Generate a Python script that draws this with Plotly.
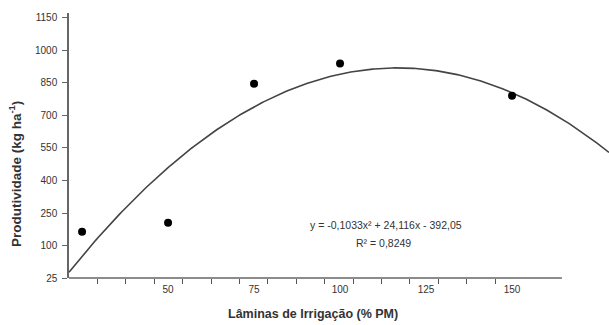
import numpy as np
import plotly.graph_objects as go

# Data (y in the chart's evenly spaced tick scale)
laminas = [25, 50, 75, 100, 150]
produtividade = [163, 205, 847, 940, 791]

y_tickvals = [-50, 100, 250, 400, 550, 700, 850, 1000, 1150]
y_ticktext = ["25", "100", "250", "400", "550", "700", "850", "1000", "1150"]
x_tickvals = [50, 75, 100, 125, 150]
x_ticktext = ["50", "75", "100", "125", "150"]

# printed regression coefficients (quadratic and linear terms)
coef_a = -0.1033
coef_b = 24.116
equation_text = "y = -0,1033x² + 24,116x - 392,05"
r2_text = "R² = 0,8249"

x_min, x_max = 21.2, 178.2
x_axis_end = 164.5
y_min, y_max = -50, 1173

# Trendline: printed curvature/slope, intercept fitted (least squares) to the points
xa = np.array(laminas, dtype=float)
ya = np.array(produtividade, dtype=float)
coef_c = ya.mean() - coef_a * (xa ** 2).mean() - coef_b * xa.mean()
xs = np.linspace(x_min, x_max, 300)
ys = np.polyval([coef_a, coef_b, coef_c], xs)

font_family = "Liberation Sans, Arial, sans-serif"
txt = "#333333"

fig = go.Figure()
fig.add_trace(go.Scatter(x=xs, y=ys, mode="lines",
                         line=dict(color="#444444", width=1.6),
                         hoverinfo="skip", showlegend=False))
fig.add_trace(go.Scatter(x=laminas, y=produtividade, mode="markers",
                         marker=dict(color="black", size=8),
                         showlegend=False))

minor_x = list(np.arange(x_min + 8.26, 146, 8.26))

fig.update_layout(
    width=609, height=325,
    margin=dict(l=69, r=0, t=13, b=47),
    paper_bgcolor="white", plot_bgcolor="white",
    font=dict(family=font_family, size=10, color=txt),
    xaxis=dict(range=[x_min, x_max], showgrid=False, zeroline=False,
               showline=False, tickmode="array", tickvals=x_tickvals,
               ticktext=x_ticktext, ticks="", ticklabelstandoff=4,
               tickfont=dict(size=10, color=txt),
               minor=dict(tickmode="array", tickvals=minor_x, ticks="outside",
                          ticklen=5, tickcolor="#555555", tickwidth=1, showgrid=False)),
    yaxis=dict(range=[y_min, y_max], showgrid=False, zeroline=False,
               showline=True, linecolor="#666666", linewidth=1.5,
               tickmode="array", tickvals=y_tickvals, ticktext=y_ticktext,
               ticks="outside", ticklen=5, tickcolor="#666666", tickwidth=1,
               ticklabelstandoff=3,
               tickfont=dict(size=10, color=txt)),
)

# x axis line (stops before the right end of the plot)
fig.add_shape(type="line", xref="x", yref="paper", x0=x_min, x1=x_axis_end,
              y0=0, y1=0, line=dict(color="#666666", width=1.5))

fig.add_annotation(text="<b>Lâminas de Irrigação (% PM)</b>", xref="paper", yref="paper",
                   x=(313 - 69) / 540, y=-(314 - 277.7) / 264.4, showarrow=False,
                   font=dict(size=12.5, color=txt, family=font_family),
                   xanchor="center", yanchor="middle")
fig.add_annotation(text="<b>Produtividade (kg ha<sup>-1</sup>)</b>", xref="paper", yref="paper",
                   x=-(69 - 15) / 540, y=(277.7 - 174) / 264.4, textangle=-90,
                   showarrow=False, xanchor="center", yanchor="middle",
                   font=dict(size=13.5, color=txt, family=font_family))
fig.add_annotation(text=equation_text, xref="paper", yref="paper",
                   x=(386 - 69) / 540, y=(277.7 - 225) / 264.4, showarrow=False,
                   xanchor="center", yanchor="middle",
                   font=dict(size=10.5, color=txt, family=font_family))
fig.add_annotation(text=r2_text, xref="paper", yref="paper",
                   x=(383 - 69) / 540, y=(277.7 - 243) / 264.4, showarrow=False,
                   xanchor="center", yanchor="middle",
                   font=dict(size=10.5, color=txt, family=font_family))

fig.write_html("out.html")
